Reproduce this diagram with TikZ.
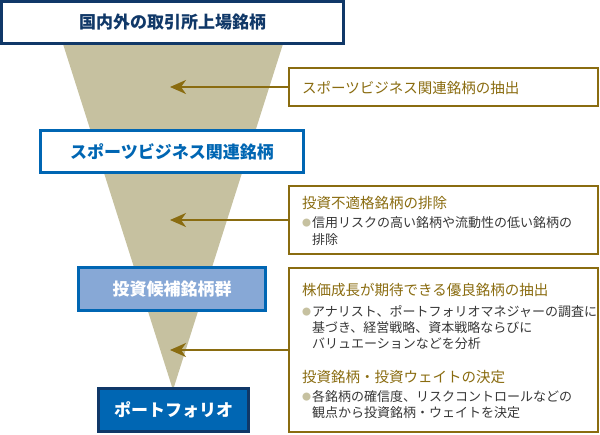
\documentclass[tikz,border=0pt]{standalone}
\usepackage{fontspec}
\setmainfont{Noto Sans CJK JP}
\usepackage{xcolor}
\usepackage{tikz}
\usetikzlibrary{arrows.meta}
\definecolor{fundnavy}{RGB}{16, 56, 104}
\definecolor{fundblue}{RGB}{0, 102, 179}
\definecolor{fundlight}{RGB}{135, 168, 214}
\definecolor{fundtan}{RGB}{198, 193, 160}
\definecolor{fundgold}{RGB}{138, 108, 16}
\definecolor{fundtext}{RGB}{55, 55, 55}

\begin{document}
\begin{tikzpicture}[x=1pt, y=-1pt, >={Stealth[length=16pt, width=14pt, inset=5pt]}]
    \tikzset{
        stagebox/.style={draw, line width=3pt, inner sep=0pt, font=\bfseries\fontsize{17}{20}\selectfont},
        notebox/.style={draw=fundgold, line width=2pt, fill=white, inner sep=0pt},
        notehead/.style={anchor=west, inner sep=0pt, text=fundgold, font=\fontsize{14.5}{17}\selectfont},
        notebody/.style={anchor=west, inner sep=0pt, text=fundtext, font=\fontsize{13}{16}\selectfont},
        notedot/.style={anchor=west, inner sep=0pt, text=fundtan, font=\fontsize{9}{10}\selectfont}
    }
    \useasboundingbox (0,0) rectangle (600,434);
    \fill[fundtan] (63,44) -- (283,44) -- (173,390) -- cycle;

    \node[stagebox, draw=fundnavy, fill=white, text=fundnavy, minimum width=342, minimum height=42] (pool) at (172.5,22.5) {国内外の取引所上場銘柄};
    \node[stagebox, draw=fundblue, fill=white, text=fundblue, minimum width=263, minimum height=42] (sport) at (172,151.5) {スポーツビジネス関連銘柄};
    \node[stagebox, draw=fundblue, fill=fundlight, text=white, minimum width=187, minimum height=43] (cand) at (172,289) {投資候補銘柄群};
    \node[stagebox, draw=fundnavy, fill=fundblue, text=white, minimum width=150, minimum height=43] (folio) at (173.5,410) {ポートフォリオ};

    \node[notebox, minimum width=309, minimum height=38] (r1) at (443.5,87) {};
    \node[notebox, minimum width=309, minimum height=68] (r2) at (443.5,220) {};
    \node[notebox, minimum width=309, minimum height=164] (r3) at (443.5,350) {};

    \coordinate (t1) at (170,87);
    \coordinate (t2) at (170,220);
    \coordinate (t3) at (170,350);
    \draw[->, fundgold, line width=2pt] (r1.west) -- (t1);
    \draw[->, fundgold, line width=2pt] (r2.west) -- (t2);
    \draw[->, fundgold, line width=2pt] (r3.west) -- (t3);

    \node[notehead] (h1) at (302,88) {スポーツビジネス関連銘柄の抽出};

    \node[notehead] (h2) at (302,203) {投資不適格銘柄の排除};
    \node[notedot] (d2) at (302,223) {●};
    \node[notebody] (b2a) at (312,223) {信用リスクの高い銘柄や流動性の低い銘柄の};
    \node[notebody] (b2b) at (312,240) {排除};

    \node[notehead] (h3) at (302,290) {株価成長が期待できる優良銘柄の抽出};
    \node[notedot] (d3) at (302,312) {●};
    \node[notebody] (b3a) at (312,312) {アナリスト、ポートフォリオマネジャーの調査に};
    \node[notebody] (b3b) at (312,328) {基づき、経営戦略、資本戦略ならびに};
    \node[notebody] (b3c) at (312,344) {バリュエーションなどを分析};

    \node[notehead] (h4) at (302,377) {投資銘柄・投資ウェイトの決定};
    \node[notedot] (d4) at (302,397) {●};
    \node[notebody] (b4a) at (312,397) {各銘柄の確信度、リスクコントロールなどの};
    \node[notebody] (b4b) at (312,413) {観点から投資銘柄・ウェイトを決定};
\end{tikzpicture}
\end{document}
